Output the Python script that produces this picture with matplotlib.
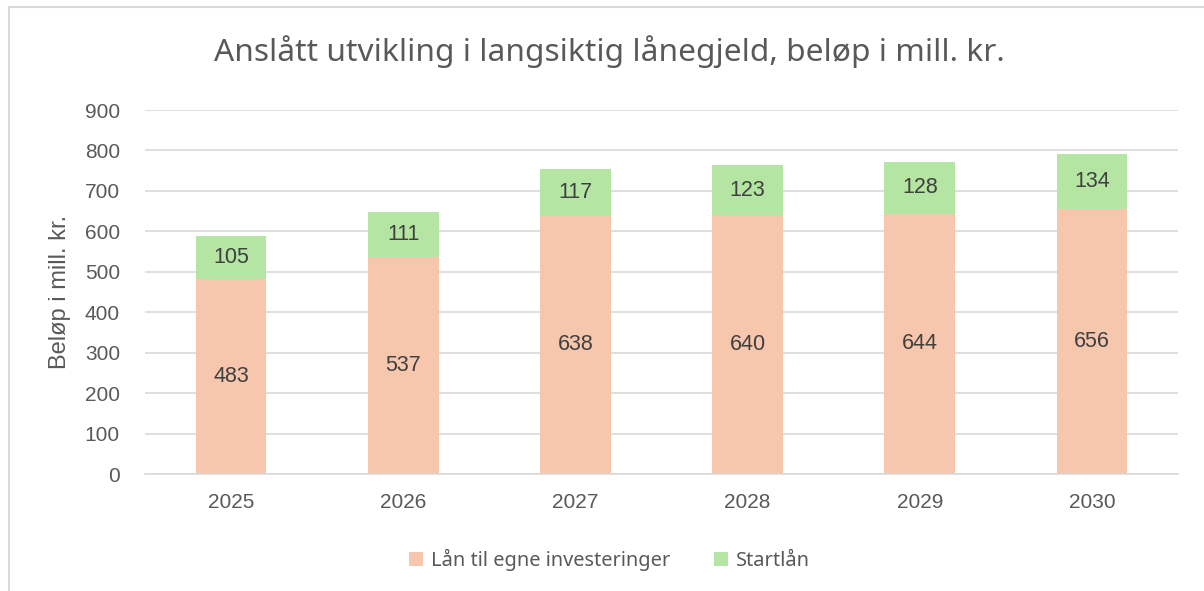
import matplotlib.pyplot as plt
from matplotlib.lines import Line2D
import numpy as np

years = ["2025", "2026", "2027", "2028", "2029", "2030"]
egne = [483, 537, 638, 640, 644, 656]
startlan = [105, 111, 117, 123, 128, 134]
yticks = [0, 100, 200, 300, 400, 500, 600, 700, 800, 900]

c_egne = "#F6C6AD"
c_start = "#B4E5A2"
txt = "#595959"

fig = plt.figure(figsize=(12.04, 5.91), dpi=100)
ax = fig.add_axes([145 / 1204, 1 - 474 / 591, (1178 - 145) / 1204, (474 - 110) / 591])

x = np.arange(len(years))
b1 = ax.bar(x, egne, width=0.41, color=c_egne, label="Lån til egne investeringer", zorder=2)
b2 = ax.bar(x, startlan, width=0.41, bottom=egne, color=c_start, label="Startlån", zorder=2)

for i in range(len(years)):
    ax.text(x[i], egne[i] / 2, str(egne[i]), ha="center", va="center",
            fontsize=15.5, color="#404040", family="Liberation Sans")
    ax.text(x[i], egne[i] + startlan[i] / 2, str(startlan[i]), ha="center", va="center",
            fontsize=15.5, color="#404040", family="Liberation Sans")

ax.set_xlim(-0.5, len(years) - 0.5)
ax.set_ylim(0, 900)
ax.set_yticks(yticks)
ax.set_xticks(x)
ax.set_xticklabels(years)
ax.yaxis.grid(True, color="#D9D9D9", linewidth=1.2, zorder=0)
ax.set_axisbelow(True)
for s in ["top", "right", "left"]:
    ax.spines[s].set_visible(False)
ax.spines["bottom"].set_color("#D9D9D9")
ax.spines["bottom"].set_linewidth(1.2)
ax.tick_params(length=0, labelsize=15, labelcolor=txt, pad=18)
ax.tick_params(axis="x", pad=14)
for lab in ax.get_xticklabels() + ax.get_yticklabels():
    lab.set_family("Liberation Sans")

ax.set_ylabel("Beløp i mill. kr.", fontsize=17, color=txt, family="Liberation Sans", labelpad=10)

fig.text(0.506, 1 - 52 / 591, "Anslått utvikling i langsiktig lånegjeld, beløp i mill. kr.",
         ha="center", va="center", fontsize=22.8, color=txt, family="Noto Sans")

leg = fig.legend(handles=[b1, b2], loc="center", bbox_to_anchor=(0.506, 1 - 560 / 591),
                 ncol=2, frameon=False,
                 handlelength=0.7, handleheight=0.7, handletextpad=0.4, columnspacing=2.2,
                 prop={"family": "Noto Sans", "size": 14.4})
for t in leg.get_texts():
    t.set_color(txt)

# frame around the chart
fig.add_artist(Line2D([8.5 / 1204, 8.5 / 1204], [0, 1 - 7 / 591], transform=fig.transFigure, color="#D9D9D9", lw=1.5))
fig.add_artist(Line2D([8.5 / 1204, 1], [1 - 7 / 591, 1 - 7 / 591], transform=fig.transFigure, color="#D9D9D9", lw=1.5))

fig.savefig("out.png", dpi=100)
